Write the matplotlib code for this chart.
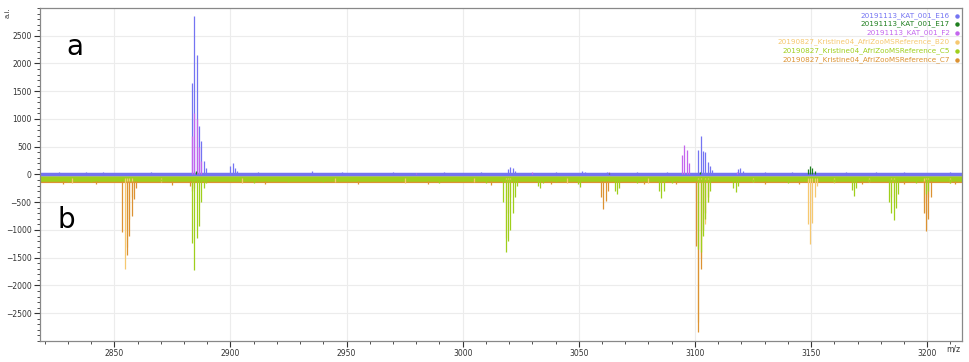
import matplotlib.pyplot as plt
from matplotlib.ticker import MultipleLocator

# series names and colours
names = ["20191113_KAT_001_E16", "20191113_KAT_001_E17", "20191113_KAT_001_F2",
         "20190827_Kristine04_AfriZooMSReference_B20",
         "20190827_Kristine04_AfriZooMSReference_C5",
         "20190827_Kristine04_AfriZooMSReference_C7"]
colors = ["#7474f2", "#1f7f1f", "#c466ee", "#f6c870", "#9fcf1c", "#dc9232"]

# baseline level of every trace (a.i.)
baselines = [12, 10, 12, -70, -80, -115]

# peak lists: m/z and intensity
e16_mz = [2883.5, 2884.5, 2885.5, 2886.5, 2887.5, 2888.5, 2889.5, 2900.0, 2901.0, 2902.0, 2903.0,
          3019.5, 3020.5, 3021.5, 3022.5, 3051.5, 3052.5, 3101.5, 3102.5, 3103.5, 3104.5, 3105.5,
          3106.5, 3107.5, 3118.5, 3119.5, 3120.5,
          2826, 2838, 2845, 2866, 2912, 2935, 2948, 2970, 2992, 3008, 3040, 3062, 3075, 3088,
          3130, 3142, 3165, 3178, 3190, 3210]
e16_int = [1650, 2850, 2150, 870, 600, 250, 120, 150, 210, 110, 60,
           100, 140, 110, 60, 60, 50, 440, 690, 420, 400, 220,
           150, 80, 100, 110, 70,
           45, 40, 50, 40, 45, 55, 40, 45, 40, 45, 50, 45, 40, 45,
           40, 45, 50, 40, 45, 40]

e17_mz = [3148.5, 3149.5, 3150.5, 3151.5, 2885.0, 3102.0, 3063.0]
e17_int = [100, 145, 120, 60, 60, 40, 35]

f2_mz = [2883.5, 2884.5, 2885.5, 2886.5, 2887.5, 3094.5, 3095.5, 3096.5, 3097.5,
         3063.0, 3118.0, 2980.0, 3030.0]
f2_int = [700, 1100, 1000, 500, 250, 350, 540, 450, 200,
          45, 40, 35, 40]

b20_mz = [2854.5, 2855.5, 2856.5, 2857.5, 3018.5, 3019.5, 3020.5,
          3101.5, 3102.5, 3104.5, 3105.5, 3148.5, 3149.5, 3150.5, 3151.5, 3152.5,
          3184.5, 3185.5, 3198.5, 3199.5, 3200.5,
          2832, 2870, 2905, 2945, 2975, 3005, 3045, 3080, 3125, 3160, 3175, 3210]
b20_int = [-1700, -1300, -800, -400, -1150, -700, -400,
           -2650, -1500, -900, -500, -900, -1250, -880, -400, -200,
           -400, -500, -500, -700, -400,
           -150, -140, -160, -130, -150, -140, -160, -150, -140, -150, -130, -160]

c5_mz = [2883.5, 2884.5, 2885.5, 2886.5, 2887.5, 2888.5, 2889.5,
         3017.5, 3018.5, 3019.5, 3020.5, 3021.5, 3022.5, 3023.5,
         3032.5, 3033.5, 3034.5, 3049.5, 3050.5, 3065.5, 3066.5, 3067.5,
         3084.5, 3085.5, 3086.5, 3101.5, 3102.5, 3103.5, 3104.5, 3105.5, 3106.5,
         3116.5, 3117.5, 3118.5, 3167.5, 3168.5, 3169.5,
         3183.5, 3184.5, 3185.5, 3186.5, 3187.5, 3199.5, 3200.5,
         2830, 2840, 2870, 2910, 2925, 2940, 2960, 2990, 3010, 3040, 3075, 3090,
         3125, 3140, 3160, 3175, 3195, 3210]
c5_int = [-1230, -1720, -1150, -930, -500, -250, -150,
          -500, -1400, -1200, -1000, -700, -400, -200,
          -200, -240, -150, -180, -230, -300, -360, -250,
          -300, -420, -300, -1350, -1400, -1100, -800, -500, -300,
          -250, -320, -200, -280, -390, -250,
          -500, -700, -820, -600, -350, -350, -300,
          -140, -130, -120, -150, -140, -130, -120, -150, -160, -140, -160, -150,
          -140, -150, -140, -130, -160, -150]

c7_mz = [2853.5, 2855.5, 2856.5, 2857.5, 2858.5, 2859.5,
         2882.5, 2883.5, 2884.5, 3059.5, 3060.5, 3061.5, 3062.5,
         3100.5, 3101.5, 3102.5, 3103.5, 3104.5, 3105.5,
         3198.5, 3199.5, 3200.5, 3201.5,
         2828, 2842, 2875, 2915, 2955, 2985, 3012, 3038, 3078, 3092, 3130, 3145, 3172, 3190, 3212]
c7_int = [-1030, -1450, -1100, -750, -450, -250,
          -200, -300, -250, -400, -630, -480, -300,
          -1290, -2830, -1700, -1000, -700, -400,
          -700, -1020, -800, -400,
          -180, -170, -190, -170, -180, -170, -190, -180, -170, -180, -170, -180, -170, -180, -170]

peaks = [(e16_mz, e16_int), (e17_mz, e17_int), (f2_mz, f2_int),
         (b20_mz, b20_int), (c5_mz, c5_int), (c7_mz, c7_int)]

fig = plt.figure(figsize=(9.7, 3.62), dpi=100)
ax = fig.add_axes([0.0412, 0.058, 0.9506, 0.920])

xmin, xmax = 2818, 3215
# baselines first (negative traces, then positive), peaks on top
base_order = [3, 5, 4, 1, 2, 0]
band = [2.5, 0.6, 1.0, 2.5, 4.0, 3.0]
for i in base_order:
    ax.plot([xmin, xmax], [baselines[i], baselines[i]], color=colors[i], lw=band[i], zorder=2)
for i in [3, 5, 4, 0, 2, 1]:
    mz, inten = peaks[i]
    ax.vlines(mz, baselines[i], inten, color=colors[i], lw=0.9, zorder=3)

ax.set_xlim(xmin, xmax)
ax.set_ylim(-3000, 3000)
ax.xaxis.set_major_locator(MultipleLocator(50))
ax.xaxis.set_minor_locator(MultipleLocator(10))
ax.yaxis.set_minor_locator(MultipleLocator(100))
ax.set_yticks(range(-2500, 2501, 500))
ax.grid(True, which='major', color='#ececec', lw=0.8, zorder=0)
ax.set_axisbelow(True)
ax.tick_params(labelsize=5.5, colors='#333333', length=4, width=0.8, pad=2)
ax.tick_params(which='minor', length=2, width=0.6, colors='#333333')
for s in ax.spines.values():
    s.set_color('#888888')
    s.set_linewidth(0.9)

# legend at top right, written as coloured text
rows = [0.976, 0.952, 0.925, 0.898, 0.871, 0.844]
for i in range(6):
    ax.text(0.987, rows[i], names[i], transform=ax.transAxes, ha='right', va='center',
            fontsize=5.2, color=colors[i])
    ax.plot([0.9946], [rows[i]], 'o', ms=2.2, color=colors[i], transform=ax.transAxes, clip_on=False)

fig.text(75 / 970, 1 - 47 / 362, "a", fontsize=20, ha='center', va='center')
fig.text(66 / 970, 1 - 220 / 362, "b", fontsize=20, ha='center', va='center')
fig.text(953 / 970, 1 - 349 / 362, "m/z", fontsize=5.5, color='#333333', ha='center', va='center')
fig.text(8 / 970, 1 - 13 / 362, "a.i.", fontsize=5, color='#333333', rotation=90, ha='center', va='center')

plt.savefig('out.png', dpi=100)
